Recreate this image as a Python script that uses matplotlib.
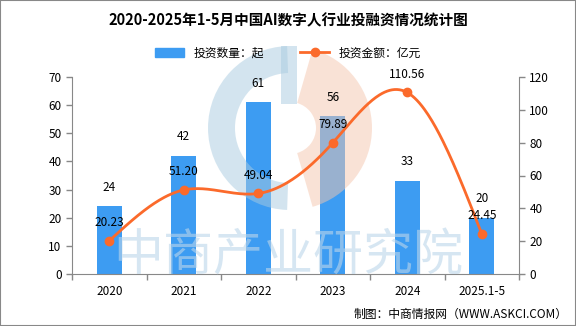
import numpy as np
import matplotlib
matplotlib.use('Agg')
import matplotlib.pyplot as plt
from matplotlib.lines import Line2D
from matplotlib.patches import Patch, Rectangle, Wedge
from matplotlib.transforms import Affine2D

plt.rcParams['font.family'] = ['Noto Sans CJK SC', 'DejaVu Sans']

years = ['2020', '2021', '2022', '2023', '2024', '2025.1-5']
counts = [24, 42, 61, 56, 33, 20]
amounts = [20.23, 51.20, 49.04, 79.89, 110.56, 24.45]

bar_color = '#3d9cf2'
line_color = '#fb6a2b'


def natural_spline(x, y, n=300):
    # natural cubic spline, only used to draw the smooth line
    x = np.asarray(x, float)
    y = np.asarray(y, float)
    k = len(x)
    h = np.diff(x)
    A = np.zeros((k, k))
    b = np.zeros(k)
    A[0, 0] = A[-1, -1] = 1
    for i in range(1, k - 1):
        A[i, i - 1] = h[i - 1]
        A[i, i] = 2 * (h[i - 1] + h[i])
        A[i, i + 1] = h[i]
        b[i] = 6 * ((y[i + 1] - y[i]) / h[i] - (y[i] - y[i - 1]) / h[i - 1])
    M = np.linalg.solve(A, b)
    xs = np.linspace(x[0], x[-1], n)
    ys = np.empty_like(xs)
    for j, t in enumerate(xs):
        i = min(np.searchsorted(x, t, side='right') - 1, k - 2)
        a = x[i + 1] - t
        c = t - x[i]
        ys[j] = (M[i] * a ** 3 + M[i + 1] * c ** 3) / (6 * h[i]) \
            + (y[i] / h[i] - M[i] * h[i] / 6) * a \
            + (y[i + 1] / h[i] - M[i + 1] * h[i] / 6) * c
    return xs, ys


fig = plt.figure(figsize=(5.76, 3.26), dpi=100)
fig.patches.append(Rectangle((0, 0), 1, 1, transform=fig.transFigure,
                             fill=False, edgecolor='#888888', linewidth=1.5))
# pixel coords, origin top-left
px = Affine2D().scale(1 / 576, -1 / 326).translate(0, 1) + fig.transFigure

ax = fig.add_axes([72 / 576, 1 - 274 / 326, (519 - 72) / 576, (274 - 77) / 326])
ax2 = ax.twinx()

x = np.arange(len(years))
ax.bar(x, counts, width=0.33, color=bar_color, zorder=2)
for xi, v in zip(x, counts):
    ax.text(xi, v + 4.5, str(v), ha='center', va='bottom', fontsize=8.5, zorder=5)

# watermark logo + text, over the bars
ax.add_patch(Wedge((290, 128), 82, 92, 268, width=27, transform=px,
                   facecolor='#a9cbe0', edgecolor='none', alpha=0.5, zorder=3, clip_on=False))
ax.add_patch(Rectangle((281, 46), 16, 58, transform=px,
                       facecolor='#a9cbe0', edgecolor='none', alpha=0.5, zorder=3, clip_on=False))
ax.add_patch(Wedge((290, 128), 82, -74, 74, width=56, transform=px,
                   facecolor='#f5c6ae', edgecolor='none', alpha=0.5, zorder=3, clip_on=False))
ax.text(288, 256, '中商产业研究院', transform=px, fontsize=36, color='#bcd6ea', alpha=0.6,
        ha='center', va='center', zorder=3)

xs, ys = natural_spline(x, amounts)
ax2.plot(xs, ys, color=line_color, linewidth=2, zorder=3)
ax2.plot(x, amounts, 'o', color=line_color, markersize=6, zorder=4)
for xi, v in zip(x, amounts):
    ax2.text(xi, v + 7, '%.2f' % v, ha='center', va='bottom', fontsize=8.5)

ax.set_xlim(-0.5, len(years) - 0.5)
ax.set_ylim(0, 70)
ax.set_yticks(range(0, 71, 10))
ax2.set_ylim(0, 120)
ax2.set_yticks(range(0, 121, 20))
ax.set_xticks(x)
ax.set_xticklabels(years)
ax.set_xticks(np.arange(-0.5, len(years), 1.0), minor=True)

for a in (ax, ax2):
    for s in a.spines.values():
        s.set_visible(False)
    a.tick_params(labelsize=8.5, colors='#888888', labelcolor='black', length=4, width=1)
ax.spines['left'].set_visible(True)
ax.spines['left'].set_color('#888888')
ax.spines['bottom'].set_visible(True)
ax.spines['bottom'].set_color('#888888')
ax2.spines['right'].set_visible(True)
ax2.spines['right'].set_color('#888888')
ax.tick_params(axis='x', which='major', length=0, pad=8)
ax.tick_params(axis='x', which='minor', length=4, width=1, colors='#888888')

fig.text(0.5, 1 - 20 / 326, '2020-2025年1-5月中国AI数字人行业投融资情况统计图',
         ha='center', va='center', fontsize=10.5, fontweight='bold')

handles = [Patch(color=bar_color, label='投资数量：起'),
           Line2D([0], [0], color=line_color, lw=2, marker='o', markersize=6,
                  label='投资金额：亿元')]
fig.legend(handles=handles, loc='center', bbox_to_anchor=(0.5, 1 - 53 / 326),
           ncol=2, frameon=False, fontsize=8.5, handlelength=2.5, columnspacing=3)

fig.text(0.985, 0.035, '制图：中商情报网（WWW.ASKCI.COM）', ha='right', va='center',
         fontsize=8.5)

fig.savefig('out.png', dpi=100)
